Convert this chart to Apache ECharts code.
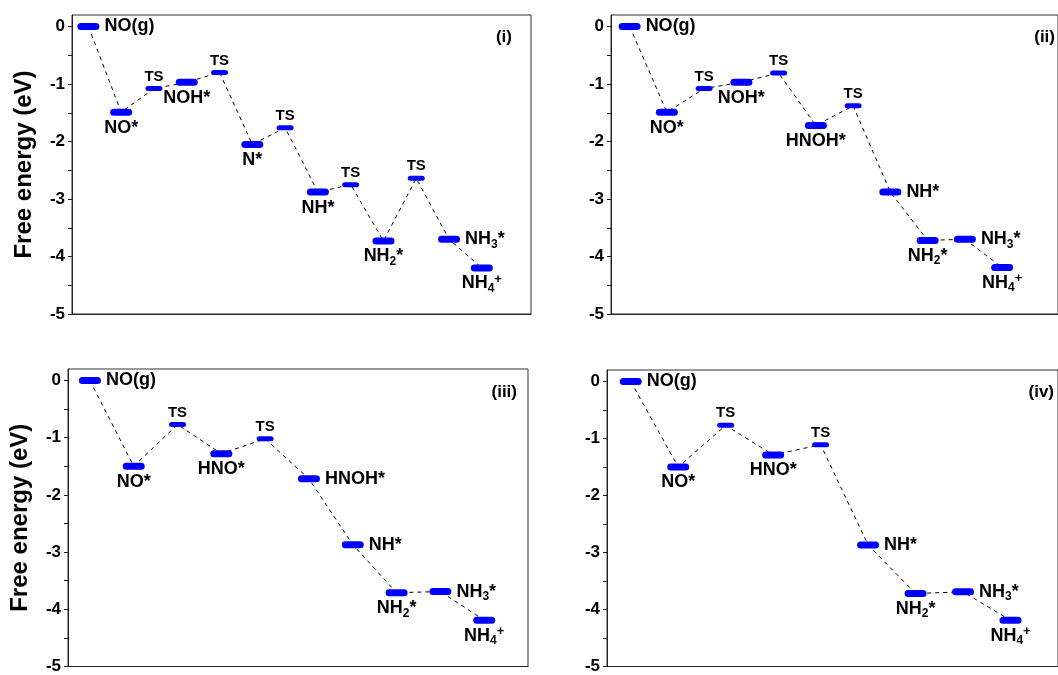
<!DOCTYPE html>
<html><head><meta charset="utf-8">
<script src="https://cdn.jsdelivr.net/npm/echarts@6/dist/echarts.min.js"></script>
<style>html,body{margin:0;padding:0;background:#fff}#c{width:1058px;height:675px}</style>
</head><body><div id="c"></div>
<script>
// ---- data ----
const names1 = ['NO(g)','NO*','TS','NOH*','TS','N*','TS','NH*','TS','NH2*','TS','NH3*','NH4+'];
const energy1 = [0,-1.49,-1.08,-0.97,-0.80,-2.05,-1.76,-2.88,-2.75,-3.73,-2.64,-3.70,-4.20];
const names2 = ['NO(g)','NO*','TS','NOH*','TS','HNOH*','TS','NH*','NH2*','NH3*','NH4+'];
const energy2 = [0,-1.49,-1.08,-0.97,-0.81,-1.72,-1.38,-2.88,-3.72,-3.70,-4.19];
const names3 = ['NO(g)','NO*','TS','HNO*','TS','HNOH*','NH*','NH2*','NH3*','NH4+'];
const energy3 = [0,-1.50,-0.77,-1.28,-1.02,-1.72,-2.87,-3.71,-3.69,-4.19];
const names4 = ['NO(g)','NO*','TS','HNO*','TS','NH*','NH2*','NH3*','NH4+'];
const energy4 = [0,-1.50,-0.77,-1.29,-1.11,-2.87,-3.72,-3.69,-4.19];
const panelTags = ['(i)','(ii)','(iii)','(iv)'];
const yTickLabels = [0,-1,-2,-3,-4,-5];
const yTickMarks = [0,-0.5,-1,-1.5,-2,-2.5,-3,-3.5,-4,-4.5,-5];
const yAxisTitle = 'Free energy (eV)';

// ---- layout (label placement per state) ----
const place1 = ['right','bottom','top','bottom','top','bottom','top','bottom','top','bottom','top','right','bottom'];
const place2 = ['right','bottom','top','bottom','top','bottom','top','right','bottom','right','bottom'];
const place3 = ['right','bottom','top','bottom','top','right','right','bottom','right','bottom'];
const place4 = ['right','bottom','top','bottom','top','right','bottom','right','bottom'];

const FONT = '"Liberation Sans", Arial, sans-serif';
const panels = [
  {names: names1, e: energy1, place: place1, grid: {left: 72, top: 15, width: 459, height: 299}, xmax: 13.5, title: true, tag: [512, 37]},
  {names: names2, e: energy2, place: place2, grid: {left: 611, top: 15, width: 459, height: 299}, xmax: 11.5, title: false, tag: [1055, 37]},
  {names: names3, e: energy3, place: place3, grid: {left: 68, top: 369, width: 460, height: 301}, xmax: 10, title: true, tag: [517, 392]},
  {names: names4, e: energy4, place: place4, grid: {left: 607, top: 370, width: 460, height: 300}, xmax: 9, title: false, tag: [1054, 392]}
];

function fmt(name) {
  if (name === 'TS') return '{ts|TS}';
  const m = name.match(/^NH(\d)([*+])$/);
  if (m) return '{b|NH}{sub|' + m[1] + '}' + (m[2] === '+' ? '{sup|+}' : '{b|*}');
  return '{b|' + name + '}';
}
const rich = {
  b: {fontSize: 18, fontWeight: 'bold', fontFamily: FONT, color: '#000', lineHeight: 22},
  ts: {fontSize: 15, fontWeight: 'bold', fontFamily: FONT, color: '#000', lineHeight: 17},
  sub: {fontSize: 12, fontWeight: 'bold', fontFamily: FONT, color: '#000', lineHeight: 12, verticalAlign: 'bottom'},
  sup: {fontSize: 13, fontWeight: 'bold', fontFamily: FONT, color: '#000', lineHeight: 13, verticalAlign: 'top'}
};
const capsule = 'path://M3.5,0 L18.5,0 A3.5,3.5 0 0 1 18.5,7 L3.5,7 A3.5,3.5 0 0 1 3.5,0 Z';

const option = {
  animation: false,
  backgroundColor: '#fff',
  grid: [], xAxis: [], yAxis: [], series: [], graphic: []
};
panels.forEach((p, k) => {
  option.grid.push(Object.assign({show: true, borderColor: '#333', borderWidth: 1, backgroundColor: 'transparent'}, p.grid));
  option.xAxis.push({
    type: 'value', gridIndex: k, min: -0.5, max: p.xmax, position: 'bottom',
    axisLine: {show: true, onZero: false, lineStyle: {color: '#222', width: 1}},
    axisTick: {show: false}, axisLabel: {show: false}, splitLine: {show: false}
  });
  option.yAxis.push({
    type: 'value', gridIndex: k, min: -5, max: 0.2, interval: 1, position: 'left',
    name: p.title ? yAxisTitle : '', nameLocation: 'middle', nameGap: 36,
    nameTextStyle: {fontSize: 24, fontWeight: 'bold', fontFamily: FONT, color: '#000'},
    axisLine: {show: true, onZero: false, lineStyle: {color: '#222', width: 1}},
    axisTick: {show: true, inside: false, length: 4, customValues: yTickMarks, lineStyle: {color: '#222'}},
    axisLabel: {show: true, customValues: yTickLabels, margin: 7, fontSize: 17, fontWeight: 'bold', fontFamily: FONT, color: '#000'},
    splitLine: {show: false}
  });
  const pts = p.e.map((v, i) => [i, v]);
  option.series.push({
    type: 'line', xAxisIndex: k, yAxisIndex: k, data: pts, symbol: 'none', z: 1,
    lineStyle: {color: '#000', width: 1, type: [4, 4]}
  });
  option.series.push({
    type: 'scatter', xAxisIndex: k, yAxisIndex: k, z: 3,
    symbol: capsule,
    symbolSize: (val, params) => params.name === 'TS' ? [17, 5] : [22, 7],
    itemStyle: {color: '#0000ff', opacity: 1},
    data: p.e.map((v, i) => ({
      name: p.names[i], value: [i, v],
      label: {position: p.place[i], distance: p.place[i] === 'right' ? 5 : 1}
    })),
    label: {show: true, formatter: (params) => fmt(params.name), rich: rich}
  });
  option.graphic.push({
    type: 'text', x: p.tag[0], y: p.tag[1],
    style: {text: panelTags[k], fontSize: 17, fontWeight: 'bold', fontFamily: FONT, fill: '#000', align: 'right', verticalAlign: 'middle'}
  });
});

const chart = echarts.init(document.getElementById('c'), null, {renderer: 'canvas'});
chart.setOption(option);
</script>
</body></html>
